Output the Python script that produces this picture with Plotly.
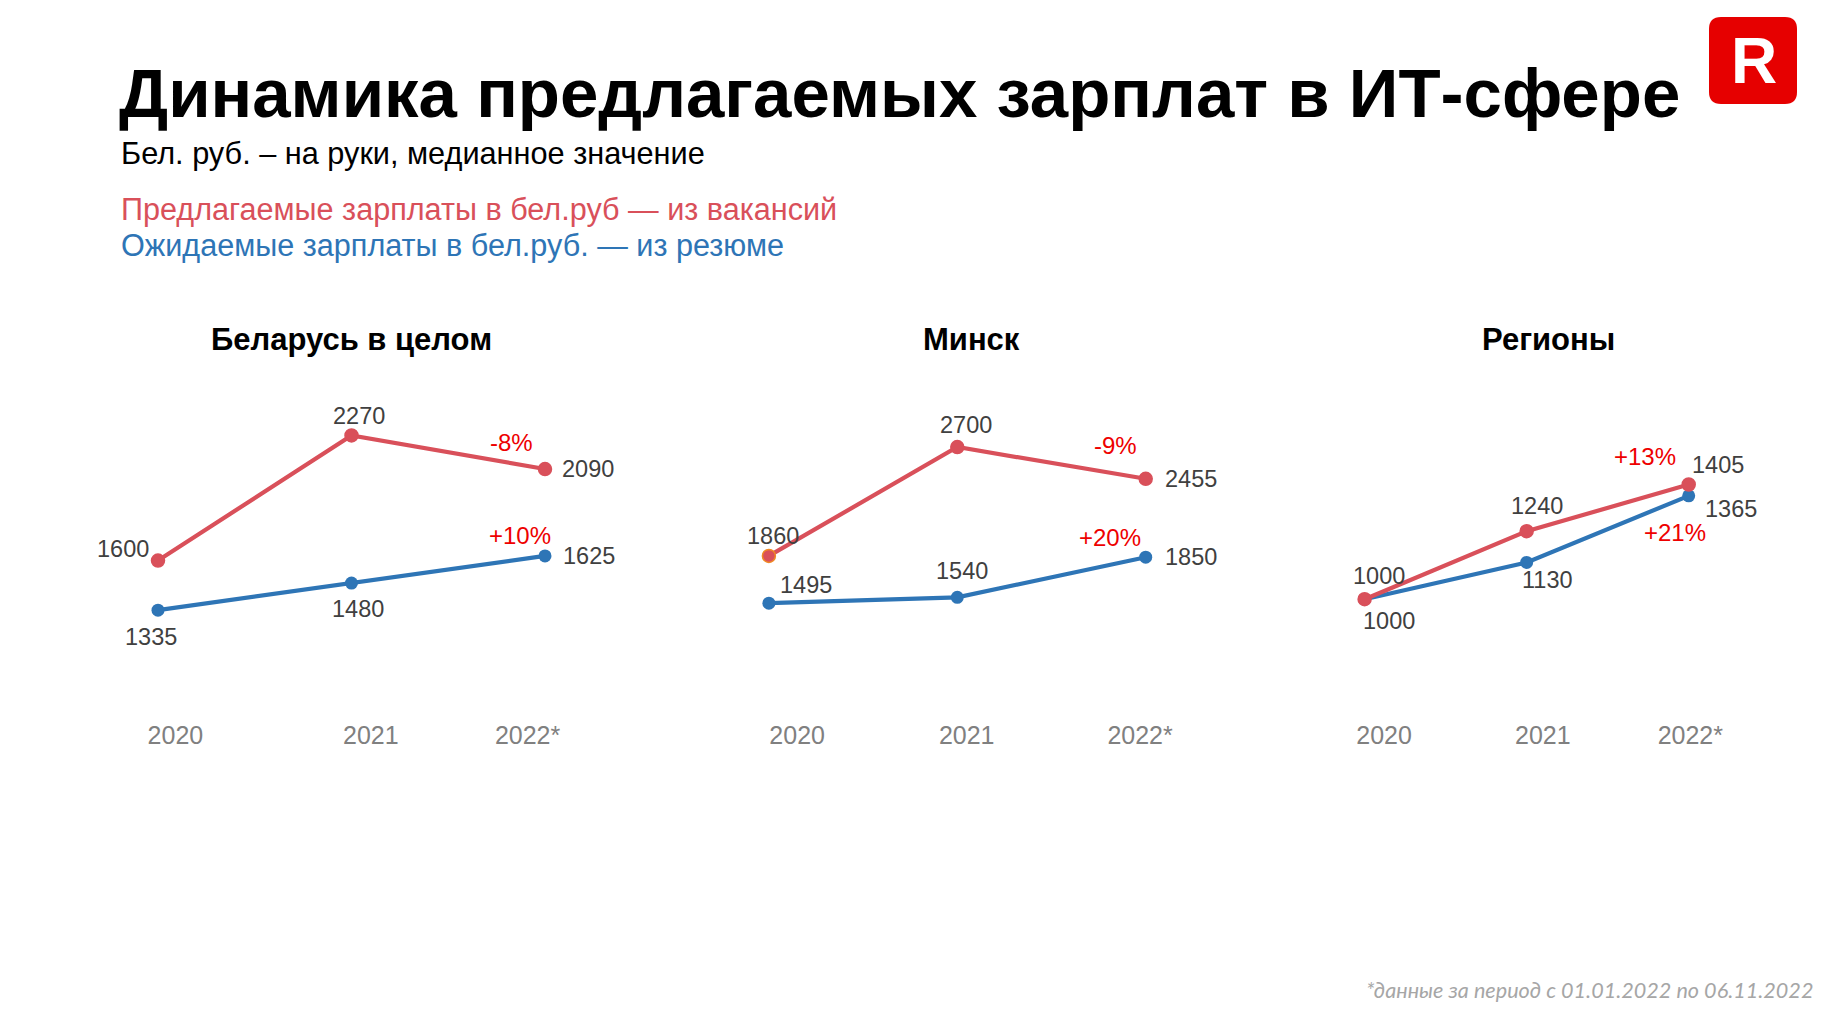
import plotly.graph_objects as go

W, H = 1835, 1018

# ---------------- data ----------------
years = ["2020", "2021", "2022*"]
panel_titles = ["Беларусь в целом", "Минск", "Регионы"]

offered_belarus = [1600, 2270, 2090]
expected_belarus = [1335, 1480, 1625]
offered_minsk = [1860, 2700, 2455]
expected_minsk = [1495, 1540, 1850]
offered_regions = [1000, 1240, 1405]
expected_regions = [1000, 1130, 1365]

title_text = "Динамика предлагаемых зарплат в ИТ-сфере"
subtitle_text = "Бел. руб. – на руки, медианное значение"
legend_offered = "Предлагаемые зарплаты в бел.руб — из вакансий"
legend_expected = "Ожидаемые зарплаты в бел.руб. — из резюме"
footnote_text = "*данные за период с 01.01.2022 по 06.11.2022"

offered_series = [offered_belarus, offered_minsk, offered_regions]
expected_series = [expected_belarus, expected_minsk, expected_regions]

# ---------------- styles / geometry ----------------
RED = "#d9505a"
BLUE = "#2e75b6"
PCT = "#ee0000"
LABEL = "#404040"
TICK = "#808080"
FONT = "Liberation Sans, Arial, sans-serif"

# x pixel of first and last point, y anchor (value, pixel), px per unit, tick offsets
geom = [
    dict(x0=158.0, x2=545.0, v0=1600, p0=560.6, k=0.1869, toff=[0.09, 0.10, -0.09], tx=351),
    dict(x0=768.9, x2=1145.7, v0=1860, p0=555.9, k=0.1296, toff=[0.15, 0.05, -0.03], tx=971),
    dict(x0=1364.6, x2=1688.7, v0=1000, p0=599.2, k=0.2832, toff=[0.12, 0.10, 0.01], tx=1548),
]
TOP_PX, BOT_PX = 380, 718

lab_off = [
    dict(red=[(-35, 12), (7, 19), (43, 0)], blue=[(-7, -27), (6, -26), (44, 0)],
         pr=(-34, 27), pb=(-25, 20)),
    dict(red=[(4, 20), (9, 22), (45, 0)], blue=[(37, 18), (5, 26), (45, 0)],
         pr=(-30, 33), pb=(-36, 20)),
    dict(red=[(14, 23), (10, 25), (29, 20)], blue=[(24, -22), (21, -18), (42, -13)],
         pr=(-44, 28), pb=(-14, -37)),
]

fig = go.Figure()
annotations = []

def pct_text(a, b):
    return f"{round((b / a - 1) * 100):+d}%"

for i in range(3):
    g = geom[i]
    sp = (g["x2"] - g["x0"]) / 2
    left = g["x0"] - 0.5 * sp
    right = g["x2"] + 0.5 * sp
    v_bot = g["v0"] - (BOT_PX - g["p0"]) / g["k"]
    v_top = g["v0"] - (TOP_PX - g["p0"]) / g["k"]
    xa = "xaxis" if i == 0 else f"xaxis{i+1}"
    ya = "yaxis" if i == 0 else f"yaxis{i+1}"
    xr = "x" if i == 0 else f"x{i+1}"
    yr = "y" if i == 0 else f"y{i+1}"
    xs = list(range(len(years)))

    fig.update_layout(**{
        xa: dict(domain=[left / W, right / W], range=[-0.5, 2.5], anchor=yr,
                 showgrid=False, zeroline=False, showline=False, ticks="",
                 tickvals=[x + o for x, o in zip(xs, g["toff"])], ticktext=years,
                 tickfont=dict(family=FONT, size=25, color=TICK), fixedrange=True),
        ya: dict(domain=[1 - BOT_PX / H, 1 - TOP_PX / H], range=[v_bot, v_top], anchor=xr,
                 showgrid=False, zeroline=False, showline=False, showticklabels=False,
                 fixedrange=True),
    })

    off = offered_series[i]
    exp = expected_series[i]
    mline = ["#f08a24" if (i == 1 and j == 0) else RED for j in range(3)]
    fig.add_trace(go.Scatter(x=xs, y=exp, xaxis=xr, yaxis=yr, mode="lines+markers",
                             line=dict(color=BLUE, width=4.2),
                             marker=dict(color=BLUE, size=13),
                             showlegend=False, cliponaxis=False))
    fig.add_trace(go.Scatter(x=xs, y=off, xaxis=xr, yaxis=yr, mode="lines+markers",
                             line=dict(color=RED, width=4.2),
                             marker=dict(color=RED, size=13, line=dict(color=mline, width=1.5)),
                             showlegend=False, cliponaxis=False))

    lo = lab_off[i]
    for j in range(3):
        for vals, key in ((off, "red"), (exp, "blue")):
            dx, dy = lo[key][j]
            annotations.append(dict(x=xs[j], y=vals[j], xref=xr, yref=yr, text=str(vals[j]),
                                    showarrow=False, xshift=dx, yshift=dy,
                                    font=dict(family=FONT, size=23.5, color=LABEL)))
    for vals, key in ((off, "pr"), (exp, "pb")):
        dx, dy = lo[key]
        annotations.append(dict(x=xs[2], y=vals[2], xref=xr, yref=yr,
                                text=pct_text(vals[1], vals[2]),
                                showarrow=False, xshift=dx, yshift=dy,
                                font=dict(family=FONT, size=24, color=PCT)))
    # panel title
    annotations.append(dict(x=g["tx"] / W, y=1 - 339 / H, xref="paper", yref="paper",
                            text=f"<b>{panel_titles[i]}</b>", showarrow=False,
                            xanchor="center", yanchor="middle",
                            font=dict(family=FONT, size=31, color="#000000")))

# header texts
annotations += [
    dict(x=117 / W, y=1 - 93 / H, xref="paper", yref="paper", text=f"<b>{title_text}</b>",
         showarrow=False, xanchor="left", yanchor="middle",
         font=dict(family=FONT, size=69, color="#000000")),
    dict(x=119 / W, y=1 - 153 / H, xref="paper", yref="paper", text=subtitle_text,
         showarrow=False, xanchor="left", yanchor="middle",
         font=dict(family=FONT, size=30.7, color="#000000")),
    dict(x=119 / W, y=1 - 209 / H, xref="paper", yref="paper", text=legend_offered,
         showarrow=False, xanchor="left", yanchor="middle",
         font=dict(family=FONT, size=30.6, color=RED)),
    dict(x=119 / W, y=1 - 245 / H, xref="paper", yref="paper", text=legend_expected,
         showarrow=False, xanchor="left", yanchor="middle",
         font=dict(family=FONT, size=30.6, color=BLUE)),
    dict(x=1815 / W, y=1 - 990 / H, xref="paper", yref="paper", text=f"<i>{footnote_text}</i>",
         showarrow=False, xanchor="right", yanchor="middle",
         font=dict(family="Lato, Open Sans, sans-serif", size=21.6, color="#a6a6a6")),
    dict(x=1754 / W, y=1 - 61 / H, xref="paper", yref="paper", text="<b>R</b>",
         showarrow=False, xanchor="center", yanchor="middle",
         font=dict(family=FONT, size=64, color="#ffffff")),
]

# logo rounded square
x0, x1, y0, y1, r = 1709, 1797, 17, 104, 12
def px(x):
    return x / W
def py(y):
    return 1 - y / H
path = (f"M {px(x0 + r)},{py(y0)} L {px(x1 - r)},{py(y0)} "
        f"Q {px(x1)},{py(y0)} {px(x1)},{py(y0 + r)} L {px(x1)},{py(y1 - r)} "
        f"Q {px(x1)},{py(y1)} {px(x1 - r)},{py(y1)} L {px(x0 + r)},{py(y1)} "
        f"Q {px(x0)},{py(y1)} {px(x0)},{py(y1 - r)} L {px(x0)},{py(y0 + r)} "
        f"Q {px(x0)},{py(y0)} {px(x0 + r)},{py(y0)} Z")

fig.update_layout(
    width=W, height=H, margin=dict(l=0, r=0, t=0, b=0),
    paper_bgcolor="#ffffff", plot_bgcolor="#ffffff",
    annotations=annotations,
    shapes=[dict(type="path", path=path, xref="paper", yref="paper",
                 fillcolor="#e60000", line=dict(width=0), layer="below")],
    showlegend=False,
)

fig.write_html("out.html", config={"displayModeBar": False})
